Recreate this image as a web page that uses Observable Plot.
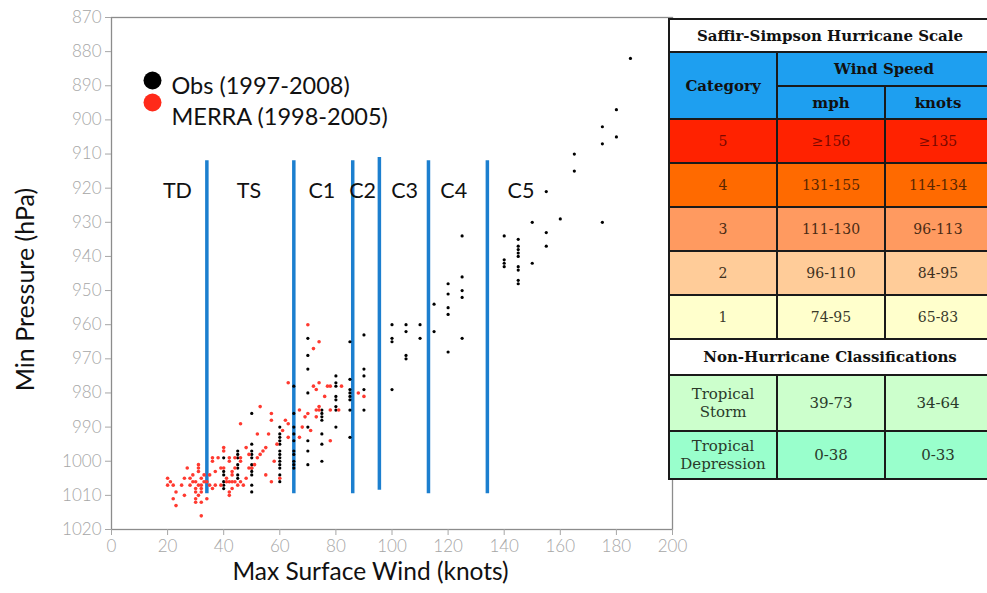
<!DOCTYPE html>
<html>
<head>
<meta charset="utf-8">
<script src="https://cdn.jsdelivr.net/npm/d3@7"></script>
<script src="https://cdn.jsdelivr.net/npm/@observablehq/plot@0.6"></script>
<style>
  html, body { margin: 0; padding: 0; background: #fff; overflow: hidden; }
  #wrap { position: relative; width: 987px; height: 593px; overflow: hidden; }
  #chart { position: absolute; left: 0; top: 0; }
  #table {
    position: absolute; left: 668px; top: 18px;
    display: grid; background: #1a1a1a; padding: 2px; gap: 2px;
    grid-template-columns: 106px 106px 104px;
    grid-template-rows: 31px 32px 31px 42px 42px 42px 42px 42px 34px 54px 46px;
    font-family: "DejaVu Serif", "Liberation Serif", serif; font-size: 14px;
  }
  #table div { display: flex; align-items: center; justify-content: center; text-align: center; line-height: 18px; }
  .hdr { font-weight: bold; color: #111; font-size: 15px; }
</style>
</head>
<body>
<div id="wrap">
  <div id="chart"></div>
  <div id="table"></div>
</div>
<script>
// ---- Scatter data ----
const obsWind = [
  40,40,40,40,40,40,
  45,45,45,45,45,45,45,
  50,50,50,50,50,50,50,50,50,50,50,
  60,60,60,60,60,60,60,60,60,60,60,60,60,
  65,65,65,65,65,65,65,65,65,65,
  70,70,70,70,70,70,70,70,
  75,75,75,75,75,75,75,
  80,80,80,80,80,80,80,80,
  85,85,85,85,85,85,85,85,
  90,90,90,90,90,
  100,100,100,100,
  105,105,105,105,
  110,110,
  115,115,
  120,120,120,120,120,
  125,125,125,125,125,
  140,140,140,140,
  145,145,145,145,145,145,145,145,145,
  150,150,
  155,155,155,
  160,
  165,165,
  175,175,175,
  180,180,
  185
];
const obsPressure = [
  999,1003,1004,1006,1007,1008,
  997,998,999,1001,1002,1004,1005,
  986,995,997,998,999,1001,1002,1003,1004,1007,1009,
  990,992,993,994,995,997,998,999,1000,1001,1002,1004,1006,
  978,986,990,992,994,997,998,1000,1001,1002,
  964,969,973,980,990,994,997,1001,
  985,986,987,988,992,995,1000,
  975,977,978,981,982,984,985,990,
  965,976,979,980,981,982,985,993,
  963,973,975,979,985,
  960,964,965,979,
  960,962,969,970,
  960,964,
  954,962,
  948,951,955,957,968,
  934,946,950,952,964,
  934,941,942,943,
  935,937,938,939,940,943,944,947,948,
  930,942,
  921,933,937,
  929,
  910,915,
  902,907,930,
  897,905,
  882
];
const merraWind = [
  70,74,72,63,74,72,77,78,82,73,76,88,90,53,74,67,73,74,78,81,
  57,70,69,62,57,46,68,61,71,52,56,63,67,78,59,40,48,55,40,54,
  49,53,36,38,42,44,46,52,36,42,46,58,31,51,27,31,39,40,44,49,
  50,31,37,43,29,33,35,43,55,20,26,28,32,41,48,60,21,29,30,33,
  34,41,42,43,44,46,57,20,22,25,28,31,32,35,37,39,45,47,30,32,
  36,43,23,30,32,42,26,31,42,22,30,34,30,32,23,32,73,63
];
const merraPressure = [
  960,965,967,977,977,978,978,978,978,979,981,980,981,984,984,985,985,985,985,985,
  986,986,987,988,988,989,990,991,991,992,992,993,993,994,995,996,996,996,997,997,
  998,998,999,999,999,999,999,999,1000,1000,1000,1000,1001,1001,1002,1002,1002,1002,1002,1002,
  1002,1003,1003,1003,1004,1004,1004,1004,1004,1005,1005,1005,1005,1005,1005,1005,1006,1006,1006,1006,
  1006,1006,1006,1006,1006,1006,1006,1007,1007,1007,1007,1007,1007,1007,1007,1007,1007,1007,1008,1008,
  1008,1008,1009,1009,1009,1009,1010,1010,1010,1011,1011,1011,1012,1012,1013,1016,987,989
];

// ---- Category boundaries and labels ----
const boundaryWind = [34, 65, 86, 95.5, 113, 134];
const boundaryTop = [912, 912, 912, 911, 912, 912];
const boundaryBottom = [1009.5, 1009.5, 1009.5, 1008.5, 1009.5, 1009.5];
const catLabels = ["TD", "TS", "C1", "C2", "C3", "C4", "C5"];
const catLabelWind = [23.5, 49, 75, 89.5, 104.5, 122, 146];
const catLabelPressure = 921;

// ---- Axes ----
const xTicks = [0, 20, 40, 60, 80, 100, 120, 140, 160, 180, 200];
const yTicks = [870, 880, 890, 900, 910, 920, 930, 940, 950, 960, 970, 980, 990, 1000, 1010, 1020];
const xLabel = "Max Surface Wind (knots)";
const yLabel = "Min Pressure (hPa)";
const legendLabels = ["Obs (1997-2008)", "MERRA (1998-2005)"];
const legendColors = ["#000000", "#ff2a1a"];

// ---- Saffir-Simpson table ----
const tableTitle = "Saffir-Simpson Hurricane Scale";
const tableHeader = ["Category", "Wind Speed", "mph", "knots"];
const hurricaneCats = ["5", "4", "3", "2", "1"];
const hurricaneMph = ["≥156", "131-155", "111-130", "96-110", "74-95"];
const hurricaneKnots = ["≥135", "114-134", "96-113", "84-95", "65-83"];
const hurricaneFill = ["#ff2200", "#ff6a00", "#ff9a60", "#ffcc99", "#ffffcc"];
const hurricaneText = ["#7a0800", "#5a2600", "#4a2a14", "#3e3020", "#3a3a2a"];
const nonHurricaneTitle = "Non-Hurricane Classifications";
const nonCats = ["Tropical<br>Storm", "Tropical<br>Depression"];
const nonMph = ["39-73", "0-38"];
const nonKnots = ["34-64", "0-33"];
const nonFill = ["#ccffcc", "#99ffcc"];

const obs = obsWind.map((w, i) => ({wind: w, pressure: obsPressure[i]}));
const merra = merraWind.map((w, i) => ({wind: w, pressure: merraPressure[i]}));
const bounds = boundaryWind.map((w, i) => ({wind: w, top: boundaryTop[i], bottom: boundaryBottom[i]}));
const cats = catLabels.map((t, i) => ({label: t, wind: catLabelWind[i], pressure: catLabelPressure}));

const font = "Lato, 'Open Sans', sans-serif";

const chart = Plot.plot({
  width: 987,
  height: 593,
  marginLeft: 111,
  marginRight: 315,
  marginTop: 17,
  marginBottom: 64,
  style: {fontFamily: font, background: "transparent", overflow: "visible"},
  x: {domain: [0, 200]},
  y: {domain: [870, 1020], reverse: true},
  marks: [
    Plot.frame({stroke: "#8c8c8c", strokeWidth: 1.3}),
    Plot.axisX({ticks: xTicks, tickSize: 6, tickPadding: 4, fontSize: 17, fontWeight: 300, color: "#a6a6a6", label: null, tickFormat: d => String(d)}),
    Plot.axisY({ticks: yTicks, tickSize: 6, tickPadding: 4, fontSize: 17, fontWeight: 300, color: "#a6a6a6", label: null, tickFormat: d => String(d)}),
    Plot.ruleX(bounds, {x: "wind", y1: "top", y2: "bottom", stroke: "#1c7fcf", strokeWidth: 3.5}),
    Plot.text(cats, {x: "wind", y: "pressure", text: "label", fontSize: 21.5, fill: "#111"}),
    Plot.dot(obs, {x: "wind", y: "pressure", r: 1.6, fill: "#000"}),
    Plot.dot(merra, {x: "wind", y: "pressure", r: 1.8, fill: "#ff3a30"}),
    Plot.dot([legendLabels[0]], {frameAnchor: "top-left", dx: 41, dy: 63, r: 9, fill: legendColors[0]}),
    Plot.dot([legendLabels[1]], {frameAnchor: "top-left", dx: 41, dy: 85, r: 9, fill: legendColors[1]}),
    Plot.text([legendLabels[0]], {frameAnchor: "top-left", dx: 60, dy: 60, textAnchor: "start", fontSize: 23.5, fill: "#111"}),
    Plot.text([legendLabels[1]], {frameAnchor: "top-left", dx: 60, dy: 91, textAnchor: "start", fontSize: 23.5, fill: "#111"}),
    Plot.text([xLabel], {frameAnchor: "bottom-left", dx: 259, dy: 50, textAnchor: "middle", fontSize: 24.5, fill: "#111"}),
    Plot.text([yLabel], {frameAnchor: "top-left", dx: -95, dy: 272, rotate: -90, textAnchor: "middle", fontSize: 25, fill: "#111"})
  ]
});
document.getElementById("chart").appendChild(chart);

// Build the table
const t = document.getElementById("table");
function cell(html, style, cls) {
  const d = document.createElement("div");
  d.innerHTML = html;
  if (cls) d.className = cls;
  Object.assign(d.style, style);
  t.appendChild(d);
  return d;
}
const blue = "#1e9ff0";
cell(tableTitle, {gridColumn: "1 / 4", background: "#fff"}, "hdr");
cell(tableHeader[0], {gridColumn: "1", gridRow: "2 / 4", background: blue}, "hdr");
cell(tableHeader[1], {gridColumn: "2 / 4", gridRow: "2", background: blue}, "hdr");
cell(tableHeader[2], {gridColumn: "2", gridRow: "3", background: blue}, "hdr");
cell(tableHeader[3], {gridColumn: "3", gridRow: "3", background: blue}, "hdr");
hurricaneCats.forEach((c, i) => {
  const s = {background: hurricaneFill[i], color: hurricaneText[i]};
  cell(c, s); cell(hurricaneMph[i], s); cell(hurricaneKnots[i], s);
});
cell(nonHurricaneTitle, {gridColumn: "1 / 4", background: "#fff"}, "hdr");
nonCats.forEach((c, i) => {
  const s = {background: nonFill[i], color: "#2a3a2a", fontSize: "15px"};
  cell(c, s); cell(nonMph[i], s); cell(nonKnots[i], s);
});
</script>
</body>
</html>
